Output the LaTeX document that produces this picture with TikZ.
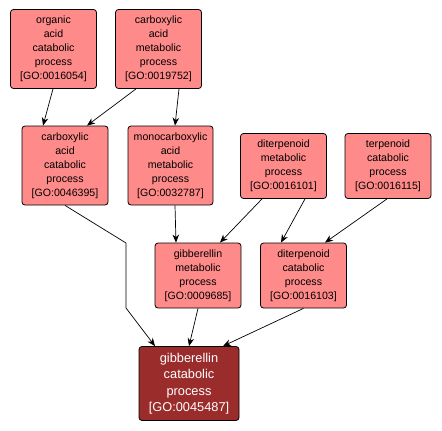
\documentclass[tikz,border=0pt]{standalone}
\usepackage{fontspec}
\setmainfont{Liberation Sans}
\usetikzlibrary{arrows.meta}
\definecolor{nodefill}{HTML}{FF8A8A}
\definecolor{targetfill}{HTML}{9B2C2C}
\definecolor{edgecol}{HTML}{000000}
\tikzset{
  term/.style={draw=black, fill=nodefill, rounded corners=3pt, line width=0.8pt,
    align=center, inner sep=0pt, text=black,
    font=\fontsize{10.6}{14}\selectfont, minimum width=86pt},
  target/.style={term, fill=targetfill, text=white,
    font=\fontsize{12.8}{16.5}\selectfont, minimum width=100pt, minimum height=74pt},
  tall/.style={minimum height=79pt},
  short/.style={minimum height=65pt},
  link/.style={draw=edgecol, line width=0.7pt, -{Stealth[length=8pt,width=6.5pt,inset=2.5pt]}}
}
\begin{document}
\begin{tikzpicture}[x=1pt,y=-1pt]
\useasboundingbox[fill=white] (0,0) rectangle (442,431);
\node[term,tall] (n1) at (53.5,49) {organic\\acid\\catabolic\\process\\{[GO:0016054]}};
\node[term,tall] (n2) at (158.5,49) {carboxylic\\acid\\metabolic\\process\\{[GO:0019752]}};
\node[term,tall] (n3) at (65,165.5) {carboxylic\\acid\\catabolic\\process\\{[GO:0046395]}};
\node[term,tall,minimum width=85pt] (n4) at (170.5,165.5) {monocarboxylic\\acid\\metabolic\\process\\{[GO:0032787]}};
\node[term,short] (n5) at (283.5,166) {diterpenoid\\metabolic\\process\\{[GO:0016101]}};
\node[term,short] (n6) at (388,166) {terpenoid\\catabolic\\process\\{[GO:0016115]}};
\node[term,short] (n7) at (198,275.5) {gibberellin\\metabolic\\process\\{[GO:0009685]}};
\node[term,short] (n8) at (303.5,275.5) {diterpenoid\\catabolic\\process\\{[GO:0016103]}};
\node[target] (n9) at (189,383.5) {gibberellin\\catabolic\\process\\{[GO:0045487]}};
\coordinate (b1) at (126,243);
\coordinate (b2) at (126,308);
\draw[link] ([xshift=-0.5pt]n1.south) -- ([xshift=-22pt]n3.north);
\draw[link] ([xshift=-22.5pt]n2.south) -- ([xshift=22pt]n3.north);
\draw[link] ([xshift=20.5pt]n2.south) -- ([xshift=4.5pt]n4.north);
\draw[link] (n3.south) -- (b1) -- (b2) -- ([xshift=-34pt]n9.north);
\draw[link] ([xshift=4.5pt]n4.south) -- ([xshift=-22pt]n7.north);
\draw[link] ([xshift=-21.5pt]n5.south) -- ([xshift=22pt]n7.north);
\draw[link] ([xshift=21.5pt]n5.south) -- ([xshift=-22.5pt]n8.north);
\draw[link] ([xshift=-1pt]n6.south) -- ([xshift=21.5pt]n8.north);
\draw[link] (n7.south) -- (n9.north);
\draw[link] (n8.south) -- ([xshift=34pt]n9.north);
\end{tikzpicture}
\end{document}
